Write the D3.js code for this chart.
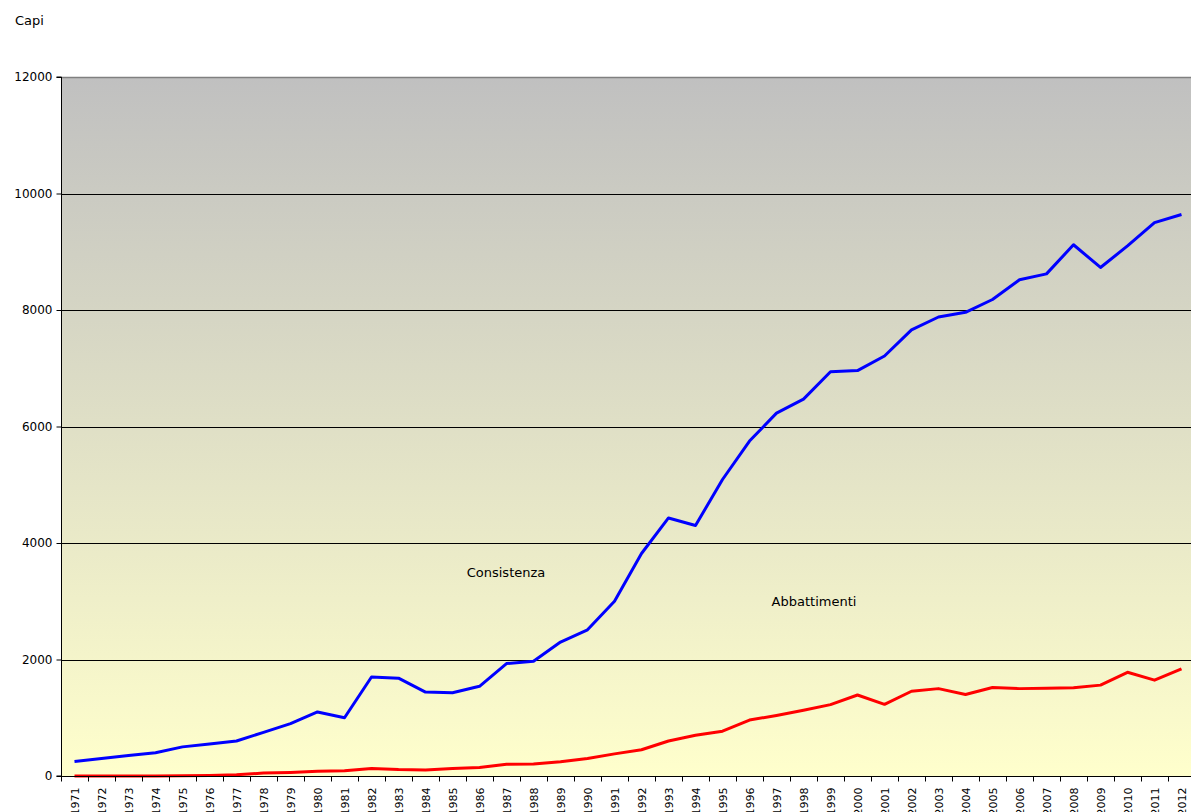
<!DOCTYPE html>
<html>
<head>
<meta charset="utf-8">
<script src="https://cdn.jsdelivr.net/npm/d3@7"></script>
<style>
  html, body { margin: 0; padding: 0; background: #ffffff; overflow: hidden; }
  svg { display: block; }
  text { font-family: "DejaVu Sans", Verdana, sans-serif; fill: #000; }
</style>
</head>
<body>
<svg id="chart" width="1191" height="812"></svg>
<script>
const years = d3.range(1971, 2013).map(String);
const consistenza = [250, 300, 350, 400, 500, 550, 600, 750, 900, 1100,
  1000, 1700, 1680, 1440, 1430, 1540, 1930, 1970, 2300, 2510,
  3000, 3820, 4430, 4300, 5090, 5750, 6230, 6470, 6940, 6960,
  7210, 7660, 7880, 7960, 8180, 8520, 8620, 9120, 8730, 9100,
  9500, 9640];
const abbattimenti = [0, 0, 0, 0, 5, 10, 20, 50, 60, 80,
  90, 130, 110, 105, 130, 145, 200, 205, 245, 300,
  380, 450, 600, 700, 770, 960, 1040, 1130, 1225, 1390,
  1230, 1455, 1500, 1400, 1520, 1500, 1505, 1515, 1560, 1780,
  1645, 1840];
const yTicks = [0, 2000, 4000, 6000, 8000, 10000, 12000];

const svg = d3.select("#chart");
const pLeft = 61, pTop = 77, pWidth = 1134, pHeight = 699;

const x = d3.scaleBand().domain(years).range([pLeft, pLeft + pWidth]).padding(0);
const y = d3.scaleLinear().domain([0, 12000]).range([pTop + pHeight, pTop]);

const defs = svg.append("defs");
const grad = defs.append("linearGradient").attr("id", "bg")
  .attr("x1", 0).attr("y1", 0).attr("x2", 0).attr("y2", 1);
grad.append("stop").attr("offset", "0%").attr("stop-color", "#c0c0c0");
grad.append("stop").attr("offset", "100%").attr("stop-color", "#ffffcc");

svg.append("rect").attr("x", pLeft).attr("y", pTop)
  .attr("width", pWidth).attr("height", pHeight).attr("fill", "url(#bg)");

// gridlines
svg.append("g").selectAll("line").data(yTicks.filter(d => d > 0 && d < 12000)).join("line")
  .attr("x1", pLeft).attr("x2", pLeft + pWidth)
  .attr("y1", d => Math.round(y(d)) + 0.5).attr("y2", d => Math.round(y(d)) + 0.5)
  .attr("stroke", "#000").attr("stroke-width", 1);

// top border
svg.append("line").attr("x1", pLeft).attr("x2", pLeft + pWidth)
  .attr("y1", pTop + 0.5).attr("y2", pTop + 0.5)
  .attr("stroke", "#808080").attr("stroke-width", 1.5);

// lines
const lineGen = d3.line().x((d, i) => x(years[i]) + x.bandwidth() / 2).y(d => y(d));
svg.append("path").datum(consistenza).attr("d", lineGen)
  .attr("fill", "none").attr("stroke", "#0000ff").attr("stroke-width", 3)
  .attr("stroke-linejoin", "round");
svg.append("path").datum(abbattimenti).attr("d", lineGen)
  .attr("fill", "none").attr("stroke", "#ff0000").attr("stroke-width", 3)
  .attr("stroke-linejoin", "round");

// y axis
const yAxis = d3.axisLeft(y).tickValues(yTicks).tickFormat(d3.format("d")).tickSize(5).tickPadding(4);
const gy = svg.append("g").attr("transform", `translate(${pLeft + 0.5},0)`).call(yAxis);
gy.select(".domain").attr("stroke", "#000").attr("d", `M-5,${pTop}H0V${pTop + pHeight}H-5`);
gy.selectAll("text").style("font-size", "12px").style("font-family", '"DejaVu Sans", Verdana, sans-serif');

// x axis: ticks between categories
const gx = svg.append("g").attr("transform", `translate(0,${pTop + pHeight + 0.5})`);
gx.append("line").attr("x1", pLeft).attr("x2", pLeft + pWidth).attr("stroke", "#000");
gx.selectAll("line.tick").data(d3.range(0, years.length + 1)).join("line")
  .attr("class", "tick")
  .attr("x1", i => Math.round(pLeft + i * x.step()) + 0.5)
  .attr("x2", i => Math.round(pLeft + i * x.step()) + 0.5)
  .attr("y1", 0).attr("y2", 5).attr("stroke", "#000");
gx.selectAll("text").data(years).join("text")
  .attr("transform", d => `translate(${x(d) + x.bandwidth() / 2 + 4},11) rotate(-90)`)
  .attr("text-anchor", "end")
  .style("font-size", "11px")
  .text(d => d);

// labels
svg.append("text").attr("x", 15).attr("y", 25).style("font-size", "13px").text("Capi");
svg.append("text").attr("x", 506).attr("y", 577).attr("text-anchor", "middle")
  .style("font-size", "13px").text("Consistenza");
svg.append("text").attr("x", 814).attr("y", 606).attr("text-anchor", "middle")
  .style("font-size", "13px").text("Abbattimenti");
</script>
</body>
</html>
